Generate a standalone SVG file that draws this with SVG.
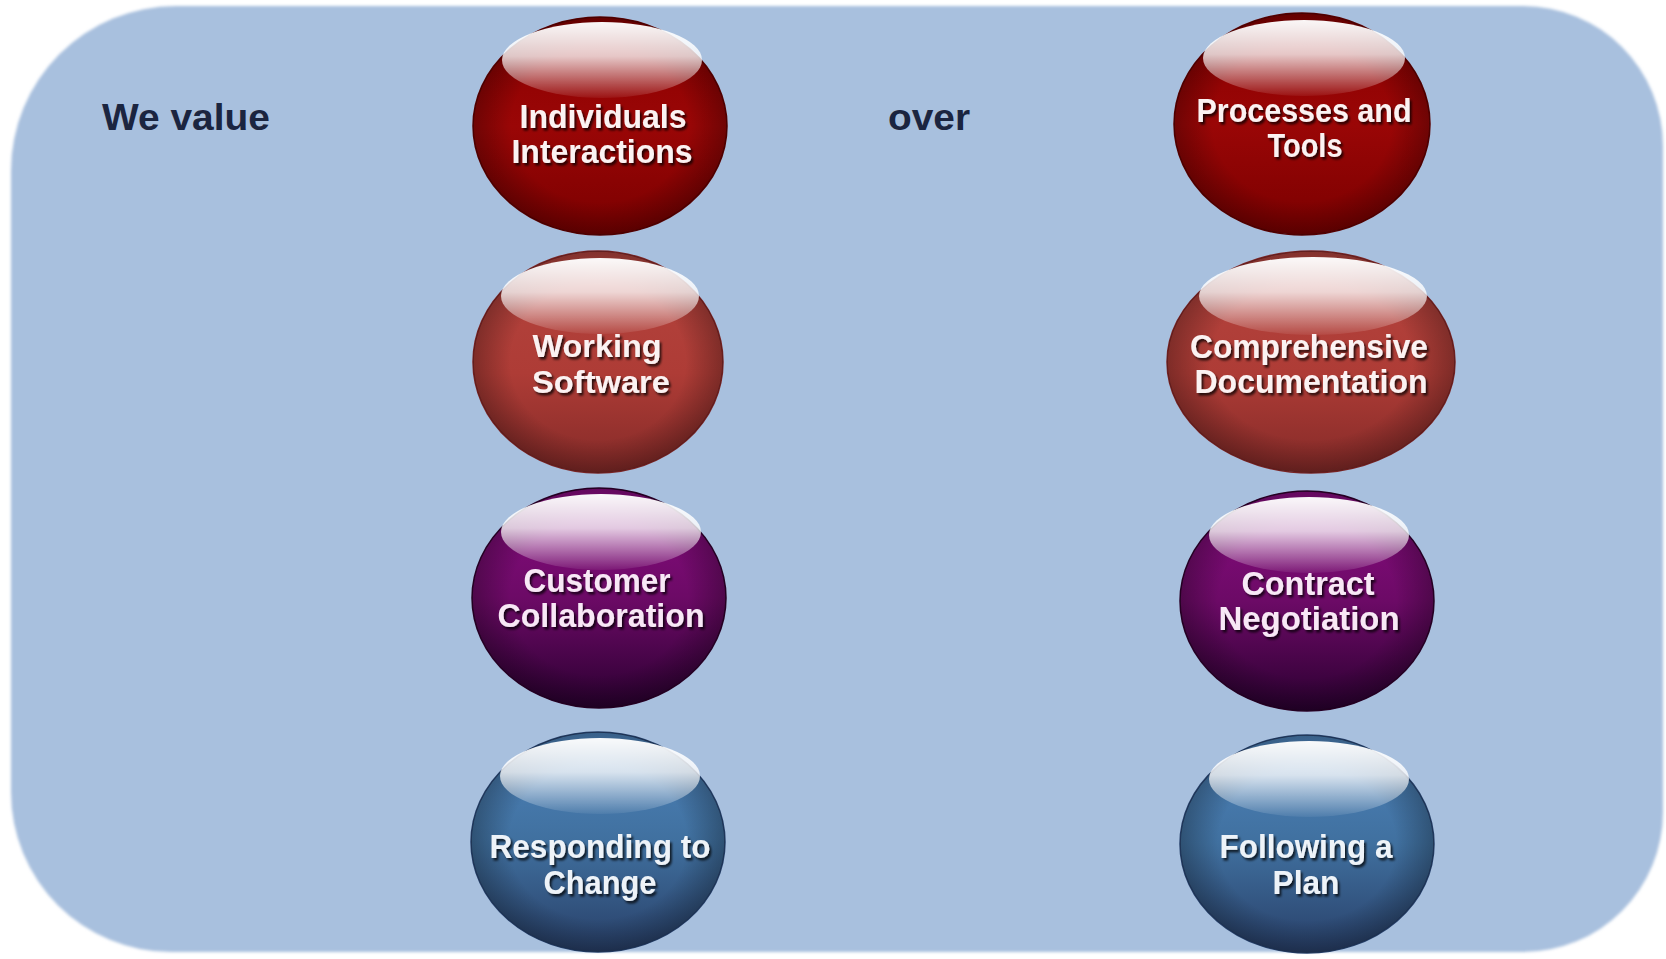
<svg xmlns="http://www.w3.org/2000/svg" width="1666" height="959" viewBox="0 0 1666 959">
<defs>
<linearGradient id="gRed1" x1="0" y1="0" x2="0" y2="1">
<stop offset="0" stop-color="#8a0000"/><stop offset="0.5" stop-color="#9a0606"/><stop offset="1" stop-color="#7a0000"/>
</linearGradient>
<linearGradient id="gRed2" x1="0" y1="0" x2="0" y2="1">
<stop offset="0" stop-color="#b4443e"/><stop offset="0.55" stop-color="#ae3c36"/><stop offset="1" stop-color="#842a28"/>
</linearGradient>
<linearGradient id="gPurple" x1="0" y1="0" x2="0" y2="1">
<stop offset="0" stop-color="#8a0c82"/><stop offset="0.5" stop-color="#6c0a66"/><stop offset="1" stop-color="#2a0030"/>
</linearGradient>
<linearGradient id="gBlue" x1="0" y1="0" x2="0" y2="1">
<stop offset="0" stop-color="#4e84bc"/><stop offset="0.5" stop-color="#40709f"/><stop offset="1" stop-color="#283f68"/>
</linearGradient>
<radialGradient id="gVig" cx="0.5" cy="0.5" r="0.5">
<stop offset="0.7" stop-color="#000" stop-opacity="0"/><stop offset="1" stop-color="#000" stop-opacity="0.28"/>
</radialGradient>
<linearGradient id="gGloss" x1="0" y1="0" x2="0" y2="1">
<stop offset="0" stop-color="#fff" stop-opacity="0.97"/><stop offset="0.45" stop-color="#fff" stop-opacity="0.78"/><stop offset="1" stop-color="#fff" stop-opacity="0.06"/>
</linearGradient>
<filter id="shadow" x="-10%" y="-30%" width="120%" height="160%">
<feDropShadow dx="2" dy="2.5" stdDeviation="1.2" flood-color="#000" flood-opacity="0.75"/>
</filter>
<filter id="soft" x="-5%" y="-5%" width="110%" height="110%">
<feGaussianBlur stdDeviation="1.5"/>
</filter>
</defs>
<style>
.lbl{font-family:"Liberation Sans",Arial,sans-serif;font-weight:bold;font-size:34px;text-anchor:middle;filter:url(#shadow)}
.sm{font-size:32px}
.red{fill:#fbf2f2}.pur{fill:#f8e8f6}.blu{fill:#eef3f8}
.head{font-family:"Liberation Sans",Arial,sans-serif;font-weight:bold;font-size:37px;fill:#1b2540}
.edge{stroke-width:1.5}
</style>
<rect width="1666" height="959" fill="#ffffff"/>
<path id="panel" d="M 176 6 H 1523 A 140 140 0 0 1 1663 146 V 812 A 140 140 0 0 1 1523 952 H 171 A 160 160 0 0 1 11 792 V 171 A 165 165 0 0 1 176 6 Z" fill="#a8c0de" filter="url(#soft)"/>
<g id="connectors"/>
<text id="we-value" class="head" x="102" y="130" textLength="168" lengthAdjust="spacingAndGlyphs">We value</text>
<text id="over" class="head" x="888" y="130" textLength="82" lengthAdjust="spacingAndGlyphs">over</text>

<g id="node-individuals">
<ellipse cx="600" cy="126" rx="127" ry="109" fill="url(#gRed1)" stroke="#5a0000" class="edge"/>
<ellipse cx="600" cy="126" rx="127" ry="109" fill="url(#gVig)"/>
<ellipse cx="602" cy="60" rx="100" ry="38" fill="url(#gGloss)"/>
<text class="lbl red" x="603" y="128" textLength="167" lengthAdjust="spacingAndGlyphs">Individuals</text>
<text class="lbl red" x="602" y="163" textLength="181" lengthAdjust="spacingAndGlyphs">Interactions</text>
</g>

<g id="node-working-software">
<ellipse cx="598" cy="362" rx="125" ry="111" fill="url(#gRed2)" stroke="#7a2424" class="edge"/>
<ellipse cx="598" cy="362" rx="125" ry="111" fill="url(#gVig)"/>
<ellipse cx="600" cy="296" rx="99" ry="38" fill="url(#gGloss)"/>
<text class="lbl sm red" x="597" y="357" textLength="129" lengthAdjust="spacingAndGlyphs">Working</text>
<text class="lbl sm red" x="601" y="393" textLength="138" lengthAdjust="spacingAndGlyphs">Software</text>
</g>

<g id="node-customer-collaboration">
<ellipse cx="599" cy="598" rx="127" ry="110" fill="url(#gPurple)" stroke="#2a0028" class="edge"/>
<ellipse cx="599" cy="598" rx="127" ry="110" fill="url(#gVig)"/>
<ellipse cx="601" cy="532" rx="100" ry="38" fill="url(#gGloss)"/>
<text class="lbl pur" x="597" y="592" textLength="147" lengthAdjust="spacingAndGlyphs">Customer</text>
<text class="lbl pur" x="601" y="627" textLength="207" lengthAdjust="spacingAndGlyphs">Collaboration</text>
</g>

<g id="node-responding-to-change">
<ellipse cx="598" cy="842" rx="127" ry="110" fill="url(#gBlue)" stroke="#26406a" class="edge"/>
<ellipse cx="598" cy="842" rx="127" ry="110" fill="url(#gVig)"/>
<ellipse cx="600" cy="776" rx="100" ry="38" fill="url(#gGloss)"/>
<text class="lbl blu" x="600" y="858" textLength="221" lengthAdjust="spacingAndGlyphs">Responding to</text>
<text class="lbl blu" x="600" y="894" textLength="113" lengthAdjust="spacingAndGlyphs">Change</text>
</g>

<g id="node-processes-tools">
<ellipse cx="1302" cy="124" rx="128" ry="111" fill="url(#gRed1)" stroke="#5a0000" class="edge"/>
<ellipse cx="1302" cy="124" rx="128" ry="111" fill="url(#gVig)"/>
<ellipse cx="1304" cy="58" rx="101" ry="38" fill="url(#gGloss)"/>
<text class="lbl red" x="1304" y="122" textLength="215" lengthAdjust="spacingAndGlyphs">Processes and</text>
<text class="lbl red" x="1305" y="157" textLength="75" lengthAdjust="spacingAndGlyphs">Tools</text>
</g>

<g id="node-comprehensive-documentation">
<ellipse cx="1311" cy="362" rx="144" ry="111" fill="url(#gRed2)" stroke="#7a2424" class="edge"/>
<ellipse cx="1311" cy="362" rx="144" ry="111" fill="url(#gVig)"/>
<ellipse cx="1313" cy="296" rx="114" ry="39" fill="url(#gGloss)"/>
<text class="lbl red" x="1309" y="358" textLength="238" lengthAdjust="spacingAndGlyphs">Comprehensive</text>
<text class="lbl red" x="1311" y="393" textLength="233" lengthAdjust="spacingAndGlyphs">Documentation</text>
</g>

<g id="node-contract-negotiation">
<ellipse cx="1307" cy="601" rx="127" ry="110" fill="url(#gPurple)" stroke="#2a0028" class="edge"/>
<ellipse cx="1307" cy="601" rx="127" ry="110" fill="url(#gVig)"/>
<ellipse cx="1309" cy="535" rx="100" ry="38" fill="url(#gGloss)"/>
<text class="lbl pur" x="1308" y="595" textLength="133" lengthAdjust="spacingAndGlyphs">Contract</text>
<text class="lbl pur" x="1309" y="630" textLength="181" lengthAdjust="spacingAndGlyphs">Negotiation</text>
</g>

<g id="node-following-plan">
<ellipse cx="1307" cy="844" rx="127" ry="109" fill="url(#gBlue)" stroke="#26406a" class="edge"/>
<ellipse cx="1307" cy="844" rx="127" ry="109" fill="url(#gVig)"/>
<ellipse cx="1309" cy="779" rx="100" ry="38" fill="url(#gGloss)"/>
<text class="lbl blu" x="1306" y="858" textLength="173" lengthAdjust="spacingAndGlyphs">Following a</text>
<text class="lbl blu" x="1306" y="894" textLength="67" lengthAdjust="spacingAndGlyphs">Plan</text>
</g>
</svg>
